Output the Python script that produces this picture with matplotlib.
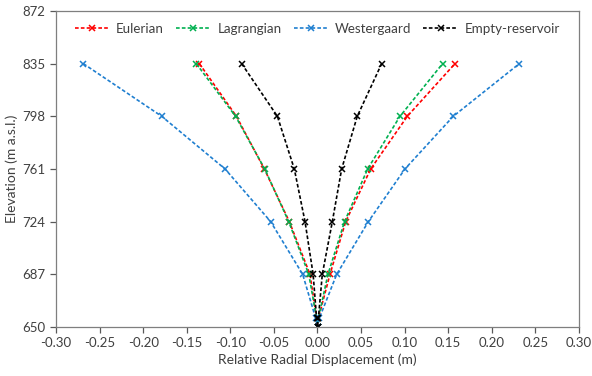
import numpy as np
import matplotlib
matplotlib.use('Agg')
import matplotlib.pyplot as plt

# elevations (m a.s.l.), top to bottom
elev = [835, 798, 761, 724, 687, 656, 650]

# left / right branch displacements (m), same order as elev
eul_left = [-0.1355, -0.093, -0.061, -0.0323, -0.0086, -0.001, 0.0]
eul_right = [0.1577, 0.103, 0.061, 0.0323, 0.0143, 0.001, 0.0]
lag_left = [-0.139, -0.094, -0.0605, -0.033, -0.010, -0.001, 0.0]
lag_right = [0.1435, 0.0946, 0.0575, 0.031, 0.012, 0.001, 0.0]
wes_left = [-0.2686, -0.1787, -0.106, -0.0537, -0.017, -0.002, 0.0]
wes_right = [0.2315, 0.1557, 0.1003, 0.0583, 0.022, 0.002, 0.0]
emp_left = [-0.087, -0.046, -0.0266, -0.0143, -0.005, -0.001, 0.0]
emp_right = [0.0736, 0.0456, 0.0277, 0.017, 0.0055, 0.001, 0.0]

labels = ['Eulerian', 'Lagrangian', 'Westergaard', 'Empty-reservoir']
colors = ['#ff0000', '#00b050', '#1f7fd0', '#000000']

x_ticks = np.arange(-0.30, 0.301, 0.05)
y_ticks = [650, 687, 724, 761, 798, 835, 872]

plt.rcParams['font.family'] = ['Lato', 'DejaVu Sans']

fig = plt.figure(figsize=(5.92, 3.76), dpi=100)
ax = fig.add_axes([56 / 592, 1 - 327 / 376, 523 / 592, 316 / 376])

series = [(eul_left, eul_right), (lag_left, lag_right),
          (wes_left, wes_right), (emp_left, emp_right)]

for (left, right), lab, col in zip(series, labels, colors):
    x = list(left) + list(right[::-1])
    y = list(elev) + list(elev[::-1])
    ax.plot(x, y, color=col, linestyle=(0, (2.2, 1.3)), linewidth=1.2,
            marker='x', markersize=5, markeredgewidth=1.1, label=lab)

ax.set_xlim(-0.30, 0.30)
ax.set_ylim(650, 872)
ax.set_xticks(x_ticks)
ax.set_yticks(y_ticks)
ax.set_xticklabels(['%.2f' % (0.0 if abs(v) < 1e-9 else v) for v in x_ticks])

for s in ax.spines.values():
    s.set_color('#7f7f7f')
    s.set_linewidth(0.9)
ax.tick_params(colors='#595959', labelcolor='#404040', labelsize=9.5,
               length=4, width=0.9)
ax.set_xlabel('Relative Radial Displacement (m)', color='#404040', fontsize=10, labelpad=3)
ax.set_ylabel('Elevation (m a.s.l.)', color='#404040', fontsize=10, labelpad=3)

ax.legend(loc='upper center', bbox_to_anchor=(0.5, 1.0), ncol=4, frameon=False,
          fontsize=9.6, handlelength=2.6, handletextpad=0.5, columnspacing=0.9,
          borderaxespad=0.5, labelcolor='#404040')

fig.savefig('out.png', dpi=100)
